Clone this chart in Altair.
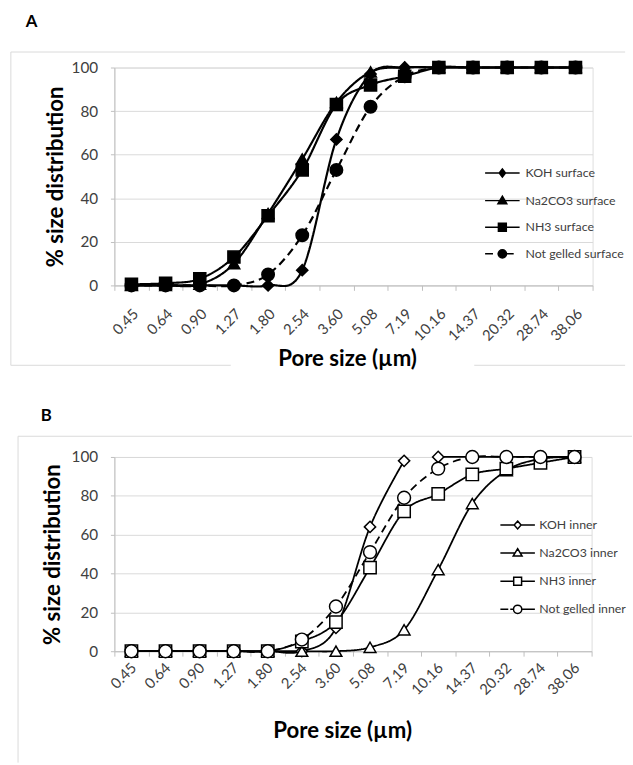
import altair as alt
import pandas as pd

# ---------------- data ----------------
sizes = ["0.45", "0.64", "0.90", "1.27", "1.80", "2.54", "3.60", "5.08",
         "7.19", "10.16", "14.37", "20.32", "28.74", "38.06"]

series_a = ["KOH surface", "Na2CO3 surface", "NH3 surface", "Not gelled surface"]
koh_surface = [0, 0, 0, 0, 0, 7, 67, 97, 100, 100, 100, 100, 100, 100]
na2co3_surface = [0, 0, 0.5, 10, 33, 58, 84, 98, 100, 100, 100, 100, 100, 100]
nh3_surface = [0.5, 1, 3, 13, 32, 53, 83, 92, 96, 100, 100, 100, 100, 100]
notgelled_surface = [0, 0, 0, 0, 5, 23, 53, 82, 96, 100, 100, 100, 100, 100]

series_b = ["KOH inner", "Na2CO3 inner", "NH3 inner", "Not gelled inner"]
koh_inner = [0, 0, 0, 0, 0, 0, 12, 64, 98, 100, 100, 100, 100, 100]
na2co3_inner = [0, 0, 0, 0, 0, 0, 0, 2, 11, 42, 76, 93, 99, 100]
nh3_inner = [0, 0, 0, 0, 0, 5, 15, 43, 72, 81, 91, 94, 97, 100]
notgelled_inner = [0, 0, 0, 0, 0, 6, 23, 51, 79, 94, 100, 100, 100, 100]
# the KOH inner line is broken between 7.19 and 10.16 in the source figure
koh_inner_segment = [0, 0, 0, 0, 0, 0, 0, 0, 0, 1, 1, 1, 1, 1]

y_ticks = [0, 20, 40, 60, 80, 100]


def long_df(names, values, segments):
    rows = []
    for k, (name, vals) in enumerate(zip(names, values)):
        seg = segments.get(name, [0] * len(sizes))
        for i, (s, v) in enumerate(zip(sizes, vals)):
            rows.append({"size": s, "value": v, "series": name,
                         "order": k, "seg": f"{name}-{seg[i]}"})
    return pd.DataFrame(rows)


df_a = long_df(series_a, [koh_surface, na2co3_surface, nh3_surface, notgelled_surface], {})
df_b = long_df(series_b, [koh_inner, na2co3_inner, nh3_inner, notgelled_inner],
               {"KOH inner": koh_inner_segment})

FONT = "Lato"
GRID = "#d9d9d9"
AXIS_C = "#bfbfbf"
LABEL_C = "#404040"
FRAME = "#d9d9d9"

circle_path = "M0.42,0A0.42,0.42,0,1,1,-0.42,0A0.42,0.42,0,1,1,0.42,0Z"
legend_paths_a = [
    "M-1.75,0H1.75M0,-0.42L0.32,0L0,0.42L-0.32,0Z",
    "M-1.75,0H1.75M0,-0.45L0.45,0.32L-0.45,0.32Z",
    "M-1.75,0H1.75M-0.4,-0.4H0.4V0.4H-0.4Z",
    "M-1.75,0H-0.95M-0.5,0H1.15" + circle_path,
]
legend_paths_b = [
    "M-1.75,0H-0.35M0.35,0H1.75M0,-0.4L0.35,0L0,0.4L-0.35,0Z",
    "M-1.75,0H-0.28M0.28,0H1.75M0,-0.45L0.45,0.3L-0.45,0.3Z",
    "M-1.75,0H-0.4M0.4,0H1.75M-0.4,-0.4H0.4V0.4H-0.4Z",
    "M-1.75,0H-0.95M-0.75,0H-0.42M0.42,0H1.75" + circle_path,
]


def panel(df, names, letter, W, H, lab_pad, lab_off, title_x, title_y, ytitle_x,
          marker_fill, marker_sizes, line_w, legend_paths, leg_x, leg_y, leg_off,
          leg_rowpad, letter_xy, frame_top, frame_left, frame_right, frame_bottom,
          bottom_gap):
    x = alt.X("size:N", sort=sizes,
              scale=alt.Scale(type="band", paddingInner=0, paddingOuter=0),
              axis=alt.Axis(title="Pore size (µm)", labelAngle=315, labelAlign="right",
                            labelBaseline="middle", labelPadding=lab_pad,
                            labelOffset=lab_off,
                            labelFont=FONT, labelFontSize=15, labelColor=LABEL_C,
                            tickBand="extent", ticks=True, tickSize=5, tickColor=AXIS_C,
                            domainColor=AXIS_C, grid=False,
                            titleFont=FONT, titleFontSize=22.5, titleFontWeight="bold",
                            titleColor="black", titleX=title_x, titleY=title_y,
                            titleAlign="center", titleBaseline="alphabetic"))
    y = alt.Y("value:Q", scale=alt.Scale(domain=[0, 100], nice=False),
              axis=alt.Axis(title="% size distribution", values=y_ticks,
                            labelFont=FONT, labelFontSize=15.5, labelColor=LABEL_C,
                            labelPadding=13, tickSize=4, tickColor=AXIS_C,
                            domainColor=AXIS_C, gridColor=GRID, grid=True,
                            titleFont=FONT, titleFontSize=22.5, titleFontWeight="bold",
                            titleColor="black", titleAngle=270, titleX=ytitle_x,
                            titleY=H / 2, titleAlign="center",
                            titleBaseline="alphabetic"))
    base = alt.Chart(df).properties(width=W, height=H)

    lines = base.mark_line(interpolate="cardinal", color="black",
                           strokeWidth=line_w).encode(
        x=x, y=y,
        detail="seg:N",
        strokeDash=alt.StrokeDash("series:N", legend=None,
                                  scale=alt.Scale(domain=names,
                                                  range=[[1, 0], [1, 0], [1, 0], [8, 5]])),
    )
    points = base.mark_point(filled=True, fill=marker_fill, stroke="black",
                             strokeWidth=1.5, opacity=1).encode(
        x=x, y=y,
        shape=alt.Shape("series:N", legend=None,
                        scale=alt.Scale(domain=names,
                                        range=["diamond", "triangle-up", "square", "circle"])),
        size=alt.Size("series:N", legend=None,
                      scale=alt.Scale(domain=names, range=marker_sizes)),
        order="order:Q",
    )
    legend = alt.Chart(df).mark_point(filled=True, fill=marker_fill, stroke="black",
                                      strokeWidth=1.5, opacity=1).encode(
        shape=alt.Shape("series:N",
                        scale=alt.Scale(domain=names, range=legend_paths),
                        legend=alt.Legend(title=None, orient="none", legendX=leg_x,
                                          legendY=leg_y, symbolSize=400,
                                          symbolStrokeWidth=1.5,
                                          labelOffset=leg_off, rowPadding=leg_rowpad,
                                          labelFont=FONT, labelFontSize=12.5,
                                          labelColor="#404040", padding=0)),
    ).transform_filter("false")

    letter_df = pd.DataFrame({"t": [letter]})
    letter_mark = alt.Chart(letter_df).mark_text(
        font=FONT, fontSize=17, fontWeight="bold", color="black",
        align="center", baseline="middle").encode(
        x=alt.value(letter_xy[0]), y=alt.value(letter_xy[1]), text="t:N")

    fr = pd.DataFrame({"k": [0]})
    frame = [
        alt.Chart(fr).mark_rule(color=FRAME, strokeWidth=1).encode(
            x=alt.value(frame_left), x2=alt.value(frame_right), y=alt.value(frame_top)),
        alt.Chart(fr).mark_rule(color=FRAME, strokeWidth=1).encode(
            x=alt.value(frame_left), y=alt.value(frame_top), y2=alt.value(frame_bottom)),
    ]
    if bottom_gap is not None:
        frame += [
            alt.Chart(fr).mark_rule(color=FRAME, strokeWidth=1).encode(
                x=alt.value(frame_left), x2=alt.value(bottom_gap[0]), y=alt.value(frame_bottom)),
            alt.Chart(fr).mark_rule(color=FRAME, strokeWidth=1).encode(
                x=alt.value(bottom_gap[1]), x2=alt.value(frame_right), y=alt.value(frame_bottom)),
        ]

    return alt.layer(*frame, lines, points, legend, letter_mark).resolve_scale(
        shape="independent")


chart_a = panel(df_a, series_a, "A", W=485, H=221, lab_pad=21, lab_off=4,
                title_x=236, title_y=81,
                ytitle_x=-53, marker_fill="black", marker_sizes=[130, 160, 180, 85],
                line_w=2.2, legend_paths=legend_paths_a, leg_x=382.5, leg_y=96,
                leg_off=12.5, leg_rowpad=9, letter_xy=(-84, -46),
                frame_top=-15.7, frame_left=-105, frame_right=518, frame_bottom=302,
                bottom_gap=(118, 365))

chart_b = panel(df_b, series_b, "B", W=484, H=197, lab_pad=9, lab_off=2,
                title_x=231, title_y=88,
                ytitle_x=-56, marker_fill="white", marker_sizes=[130, 170, 170, 170],
                line_w=1.8, legend_paths=legend_paths_b, leg_x=398, leg_y=58,
                leg_off=11, leg_rowpad=10.5, letter_xy=(-69, -41),
                frame_top=-21, frame_left=-97.7, frame_right=525, frame_bottom=310,
                bottom_gap=None)

chart = alt.vconcat(chart_a, chart_b, spacing=37).resolve_scale(
    x="independent", y="independent", shape="independent", size="independent",
    strokeDash="independent").properties(
    padding={"left": 10, "top": 7, "right": 0, "bottom": 0}
).configure_view(stroke=None).configure(font=FONT)

chart.save("out.html", embed_options={"renderer": "svg", "actions": False})
